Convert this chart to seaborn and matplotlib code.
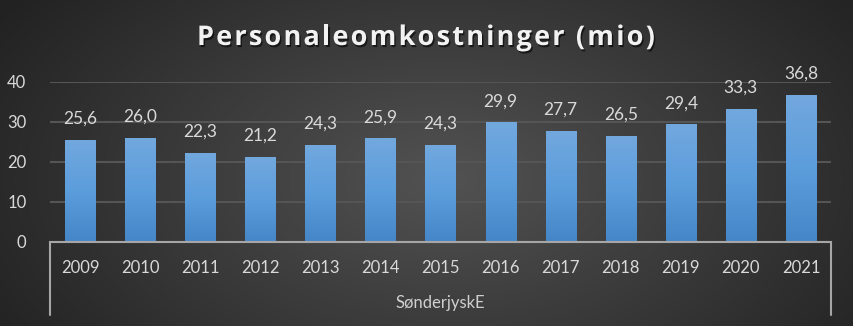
import numpy as np
import pandas as pd
import matplotlib
matplotlib.use("Agg")
import matplotlib.pyplot as plt
import matplotlib.patheffects as pe
from matplotlib.colors import LinearSegmentedColormap
from matplotlib.lines import Line2D
import seaborn as sns

# ---- data ----
years = ["2009", "2010", "2011", "2012", "2013", "2014", "2015",
         "2016", "2017", "2018", "2019", "2020", "2021"]
values = [25.6, 26.0, 22.3, 21.2, 24.3, 25.9, 24.3, 29.9, 27.7, 26.5, 29.4, 33.3, 36.8]
yticks = [0, 10, 20, 30, 40]
title = "Personaleomkostninger (mio)"
group_label = "SønderjyskE"

df = pd.DataFrame({"year": years, "value": values})

sns.set_theme(style="white")
plt.rcParams["font.family"] = ["Lato", "DejaVu Sans"]

W, H, DPI = 854, 326, 100
fig = plt.figure(figsize=(W / DPI, H / DPI), dpi=DPI)

# background radial gradient
bg = fig.add_axes([0, 0, 1, 1], zorder=-10)
yy, xx = np.mgrid[0:H, 0:W]
cx, cy = W * 0.52, H * 0.55
r = np.sqrt(((xx - cx) / (W * 0.62)) ** 2 + ((yy - cy) / (H * 0.95)) ** 2)
r = np.clip(r, 0, 1)
bg_cmap = LinearSegmentedColormap.from_list("bg", ["#525252", "#3a3a3a", "#222222"])
bg.imshow(r, cmap=bg_cmap, vmin=0, vmax=1, aspect="auto", extent=[0, 1, 0, 1])
bg.set_axis_off()

# main axes
left, right = 50 / W, 831 / W
bottom, top = 1 - 242 / H, 1 - 82 / H
ax = fig.add_axes([left, bottom, right - left, top - bottom])
ax.set_facecolor("none")

sns.barplot(data=df, x="year", y="value", color="#5b9bd5", width=0.5, ax=ax,
            saturation=1, zorder=3)

ax.set_ylim(0, 40)
xlim = ax.get_xlim()

# gradient fill for bars
bar_cmap = LinearSegmentedColormap.from_list("bar", ["#4586c8", "#5c9ddc", "#72a8de"])
grad = np.linspace(0, 1, 256).reshape(-1, 1)
for p in ax.patches:
    x0, y0 = p.get_x(), p.get_y()
    x1, y1 = x0 + p.get_width(), y0 + p.get_height()
    p.set_edgecolor("none")
    p.set_path_effects([pe.SimplePatchShadow(offset=(0, 0), shadow_rgbFace="black", alpha=0.25),
                        pe.Normal()])
    im = ax.imshow(grad, extent=[x0, x1, y0, y1], origin="lower", aspect="auto",
                   cmap=bar_cmap, zorder=4)
    im.set_clip_path(p)

ax.set_xlim(xlim)
ax.set_ylim(0, 40)

# data labels
for i, v in enumerate(values):
    ax.annotate(f"{v:.1f}".replace(".", ","), (i, v), xytext=(0, 9.5),
                textcoords="offset points", ha="center", va="bottom",
                color="#d9d9d9", fontsize=12.5, zorder=6)

# grid & axes
ax.set_yticks(yticks)
ax.yaxis.grid(True, color="#555555", linewidth=1.5, zorder=0)
ax.xaxis.grid(False)
for s in ["top", "right", "left"]:
    ax.spines[s].set_visible(False)
ax.spines["bottom"].set_color("#a6a6a6")
ax.spines["bottom"].set_linewidth(1.5)
ax.spines["bottom"].set_zorder(5)
ax.tick_params(axis="both", length=0, colors="#d9d9d9", labelsize=12)
ax.tick_params(axis="x", pad=13)
ax.tick_params(axis="y", pad=17)
ax.set_xlabel("")
ax.set_ylabel("")

# group bracket
yb = (242 - 315) / (top - bottom) / H
for xa in (0, 1):
    ax.add_line(Line2D([xa, xa], [0, yb], transform=ax.transAxes, color="#a6a6a6",
                       linewidth=1.5, clip_on=False, zorder=5))
fig.text((left + right) / 2, 1 - 303 / H, group_label, ha="center", va="center",
         color="#cfcfcf", fontsize=12)

# title with letter spacing
fs = 19.5
fp = dict(fontsize=fs, fontweight="bold", family=["Open Sans", "DejaVu Sans"])
renderer = fig.canvas.get_renderer()
def text_w(s):
    t = fig.text(0, 0, s, **fp)
    w = t.get_window_extent(renderer=renderer).width
    t.remove()
    return w
bar_w = text_w("|")
adv = [text_w(c + "|") - bar_w for c in title]
natural = sum(adv)
target_w = 655 - 197
spacing = (target_w - natural) / (len(title) - 1)
x = 426 - target_w / 2
baseline = 1 - 45 / H
for c, a in zip(title, adv):
    if c != " ":
        fig.text(x / W, baseline, c, ha="left", va="baseline", color="#f2f2f2", **fp,
                 path_effects=[pe.withSimplePatchShadow(offset=(1, -1.5),
                                                        shadow_rgbFace="black", alpha=0.6)])
    x += a + spacing

fig.savefig("out.png", dpi=DPI)
